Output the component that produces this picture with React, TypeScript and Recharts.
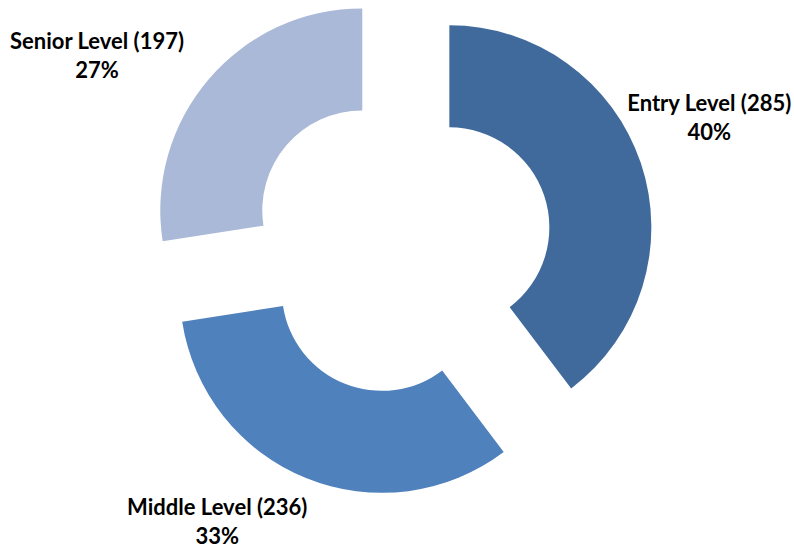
import React from "react";
import { PieChart, Pie, Cell } from "recharts";

const categories = ["Entry Level", "Middle Level", "Senior Level"];
const counts = [285, 236, 197];

const COLORS = ["#406A9C", "#4F81BD", "#AAB9D8"];
const CENTER_X = 396;
const CENTER_Y = 238.6;
const INNER_R = 100;
const OUTER_R = 202;
const EXPLODE = 51;
const LABEL_GAP = 50;
const LABEL_NUDGE: [number, number][] = [
  [21, -30],
  [-70, -3],
  [-74, 9],
];
const RAD = Math.PI / 180;

const data = categories.map((name, i) => ({ name, value: counts[i] }));
const total = counts.reduce((a, b) => a + b, 0);

const midAngles: number[] = [];
{
  let cum = 0;
  counts.forEach((v) => {
    const start = 90 - (360 * cum) / total;
    midAngles.push(start - (180 * v) / total);
    cum += v;
  });
}

const makeLabel = (idx: number) => (props: any) => {
  if (props.index !== idx) return null;
  const { cx, cy, midAngle, outerRadius, percent, name, value } = props;
  const r = outerRadius + LABEL_GAP;
  const x = cx + r * Math.cos(-midAngle * RAD) + LABEL_NUDGE[idx][0];
  const y = cy + r * Math.sin(-midAngle * RAD) + LABEL_NUDGE[idx][1];
  return (
    <text
      x={x}
      y={y}
      textAnchor="middle"
      fill="#000"
      style={{ fontFamily: "Lato, 'Open Sans', sans-serif", fontWeight: 700, fontSize: 22 }}
    >
      <tspan x={x} dy={-6.5}>{`${name} (${value})`}</tspan>
      <tspan x={x} dy={29}>{`${Math.round(percent * 100)}%`}</tspan>
    </text>
  );
};

export default function App() {
  return (
    <div style={{ position: "absolute", left: 0, top: 0, width: 794, height: 547, background: "#fff" }}>
      <PieChart width={794} height={547}>
        {counts.map((_, i) => {
          const cx = CENTER_X + EXPLODE * Math.cos(midAngles[i] * RAD);
          const cy = CENTER_Y - EXPLODE * Math.sin(midAngles[i] * RAD);
          return (
            <Pie
              key={i}
              data={data}
              dataKey="value"
              nameKey="name"
              cx={cx}
              cy={cy}
              startAngle={90}
              endAngle={-270}
              innerRadius={INNER_R}
              outerRadius={OUTER_R}
              stroke="none"
              isAnimationActive={false}
              labelLine={false}
              label={makeLabel(i)}
            >
              {data.map((d, j) => (
                <Cell key={d.name} fill={j === i ? COLORS[i] : "none"} />
              ))}
            </Pie>
          );
        })}
      </PieChart>
    </div>
  );
}
